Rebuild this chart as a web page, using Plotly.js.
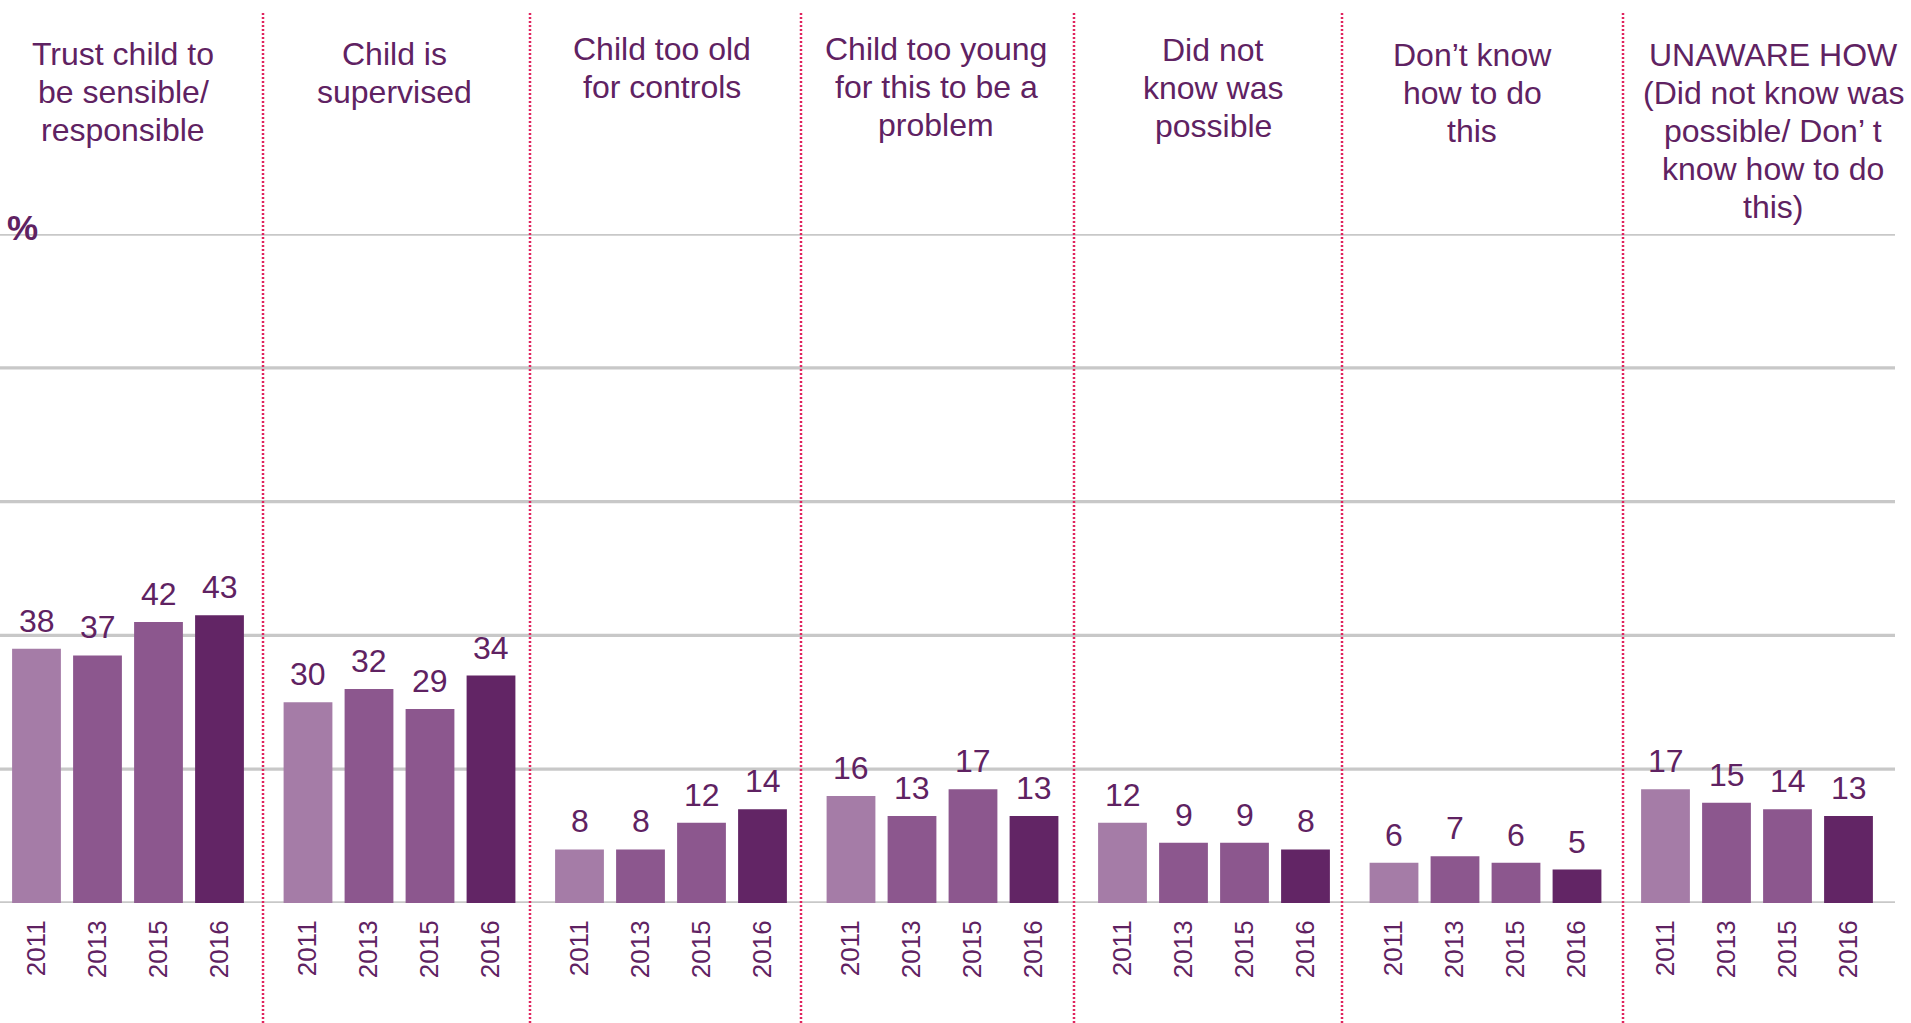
<!DOCTYPE html>
<html><head><meta charset="utf-8">
<script src="https://cdn.plot.ly/plotly-3.0.1.min.js"></script>
<style>html,body{margin:0;padding:0;background:#fff;}#chart{width:1911px;height:1023px;}</style>
</head><body><div id="chart"></div>
<script>
// ---- data ----
const categories = [
  "Trust child to<br>be sensible/<br>responsible",
  "Child is<br>supervised",
  "Child too old<br>for controls",
  "Child too young<br>for this to be a<br>problem",
  "Did not<br>know was<br>possible",
  "Don’t know<br>how to do<br>this",
  "UNAWARE HOW<br>(Did not know was<br>possible/ Don’ t<br>know how to do<br>this)"
];
const years = ["2011", "2013", "2015", "2016"];
const v2011 = [38, 30, 8, 16, 12, 6, 17];
const v2013 = [37, 32, 8, 13, 9, 7, 15];
const v2015 = [42, 29, 12, 17, 9, 6, 14];
const v2016 = [43, 34, 14, 13, 8, 5, 13];
const yTicks = [0, 20, 40, 60, 80, 100];

// ---- styling / geometry ----
const W = 1911, H = 1023, mL = 0, mR = 16, mT = 234, mB = 120;
const plotW = W - mL - mR, plotH = H - mT - mB;
const FONT = "Liberation Sans, Arial, Helvetica, sans-serif";
const TXT = "#5f2262";
const yearColors = ["#a57ca7", "#8c578e", "#8c578e", "#622565"];
const panelCenter0 = 128, panelStep = 271.5, panelHalf = 122;
const sepX = [263, 530, 801, 1074, 1342, 1623];
const titleX = [123, 394, 662, 936, 1213, 1472, 1773];
const titleY = [54, 54, 49, 49, 50, 55, 55];
const lineStep = 38;

const series = [v2011, v2013, v2015, v2016];
const traces = [];
const layout = {
  width: W, height: H,
  margin: {l: mL, r: mR, t: mT, b: mB, pad: 0},
  paper_bgcolor: "#fff", plot_bgcolor: "rgba(0,0,0,0)",
  showlegend: false,
  bargap: 0.2,
  font: {family: FONT, color: TXT},
  yaxis: {range: [0, 100], showgrid: false, zeroline: false, showline: false,
          showticklabels: false, ticks: "", fixedrange: true},
  annotations: [],
  shapes: []
};

// gridlines
yTicks.forEach(v => {
  layout.shapes.push({type: "line", xref: "paper", yref: "y", x0: 0, x1: 1, y0: v, y1: v,
    line: {color: "#c8c8c8", width: 3.3}, layer: "below"});
});

categories.forEach((cat, i) => {
  const sfx = i === 0 ? "" : String(i + 1);
  const c = panelCenter0 + panelStep * i;
  layout["xaxis" + sfx] = {
    domain: [(c - panelHalf) / plotW, (c + panelHalf) / plotW],
    anchor: "y", type: "category", categoryorder: "array", categoryarray: years,
    range: [-0.5, 3.5], showgrid: false, zeroline: false, showline: false,
    tickangle: -90, ticks: "outside", ticklen: 6, tickcolor: "rgba(0,0,0,0)",
    tickfont: {family: FONT, size: 26, color: TXT}, fixedrange: true
  };
  const vals = series.map(s => s[i]);
  traces.push({
    type: "bar", x: years, y: vals, xaxis: "x" + sfx, yaxis: "y",
    marker: {color: yearColors, line: {width: 0}}, hoverinfo: "skip"
  });
  vals.forEach((v, j) => {
    layout.annotations.push({
      xref: "x" + sfx, yref: "y", x: j, y: v, text: String(v),
      showarrow: false, yanchor: "bottom", yshift: 8,
      font: {family: FONT, size: 32, color: TXT}
    });
  });
  // panel title, line by line
  cat.split("<br>").forEach((ln, k) => {
    layout.annotations.push({
      xref: "paper", yref: "paper", x: (titleX[i] - mL) / plotW, y: 1,
      yshift: mT - (titleY[i] + k * lineStep), xanchor: "center", yanchor: "middle",
      text: ln, showarrow: false, font: {family: FONT, size: 32, color: TXT}
    });
  });
});

// "%" label
layout.annotations.push({
  xref: "paper", yref: "paper", x: 22 / plotW, y: 1, yshift: mT - 227,
  xanchor: "center", yanchor: "middle", text: "<b>%</b>", showarrow: false,
  font: {family: FONT, size: 35, color: TXT}
});

// dotted separators (from near top of page down to the bottom edge)
sepX.forEach(px => {
  layout.shapes.push({type: "line", xref: "paper", yref: "paper",
    x0: (px - mL) / plotW, x1: (px - mL) / plotW,
    y0: -mB / plotH, y1: 1 + (mT - 12) / plotH,
    line: {color: "#e0245e", width: 2.5, dash: "2px,2px"}, layer: "above"});
});

Plotly.newPlot("chart", traces, layout, {displayModeBar: false, staticPlot: true});
</script>
</body></html>
